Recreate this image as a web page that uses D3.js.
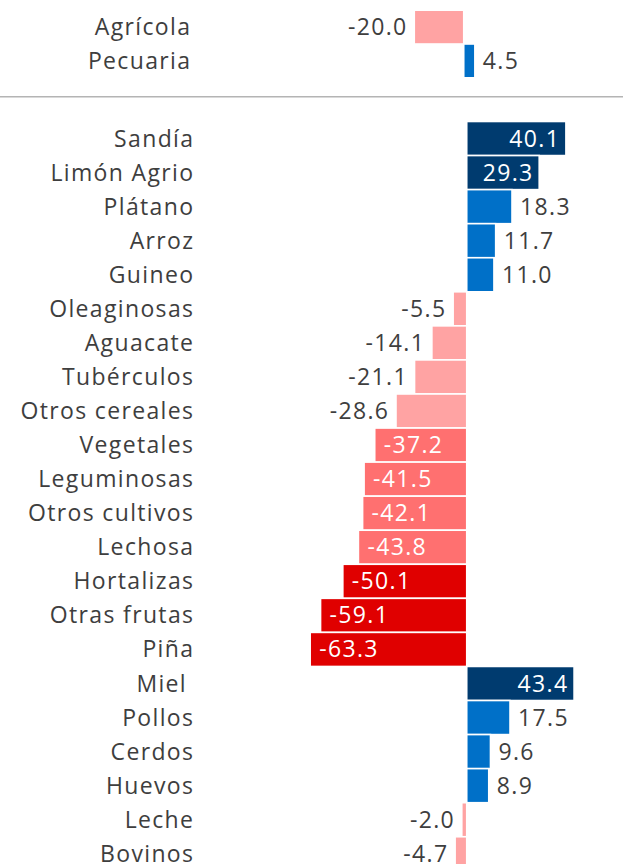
<!DOCTYPE html>
<html>
<head>
<meta charset="utf-8">
<script src="https://cdn.jsdelivr.net/npm/d3@7"></script>
<style>
  body { margin: 0; background: #fff; }
  text { font-family: "Open Sans", sans-serif; }
</style>
</head>
<body>
<div id="chart"></div>
<script>
// summary rows (top pane)
var summaryCategories = ["Agrícola", "Pecuaria"];
var summaryValues = [-20.0, 4.5];

// detail rows
var categories = ["Sandía", "Limón Agrio", "Plátano", "Arroz", "Guineo", "Oleaginosas",
  "Aguacate", "Tubérculos", "Otros cereales", "Vegetales", "Leguminosas", "Otros cultivos",
  "Lechosa", "Hortalizas", "Otras frutas", "Piña", "Miel ", "Pollos", "Cerdos", "Huevos",
  "Leche", "Bovinos"];
var values = [40.1, 29.3, 18.3, 11.7, 11.0, -5.5, -14.1, -21.1, -28.6, -37.2, -41.5, -42.1,
  -43.8, -50.1, -59.1, -63.3, 43.4, 17.5, 9.6, 8.9, -2.0, -4.7];

var width = 623, height = 864;
var fs = 23, ls = 1.35; // the original font runs wide

var svg = d3.select("#chart")
  .append("svg")
    .attr("width", width)
    .attr("height", height);

// color by value band
function barColor(v) {
  if (v > 25) return "#003b6f";
  if (v >= 0) return "#0070c8";
  if (v > -30) return "#ffa3a3";
  if (v > -50) return "#ff7070";
  return "#e00000";
}
function inside(v) {
  return v > 25 || v <= -30;
}

var x = d3.scaleLinear()
  .domain([-70, 50])
  .range([293.6, 590.4]);

function drawPane(g, cats, vals, y, labelX) {
  var rows = cats.map(function(c, i) { return {key: c, value: vals[i]}; });

  g.selectAll("rect")
    .data(rows)
    .enter()
    .append("rect")
      .attr("x", function(d) { return x(Math.min(0, d.value)); })
      .attr("y", function(d) { return y(d.key); })
      .attr("width", function(d) { return Math.abs(x(d.value) - x(0)); })
      .attr("height", y.bandwidth())
      .attr("fill", function(d) { return barColor(d.value); })
      .attr("stroke", "#fff")
      .attr("stroke-width", 1.6);

  // category names
  g.selectAll(".cat")
    .data(rows)
    .enter()
    .append("text")
      .attr("class", "cat")
      .attr("x", labelX + ls)
      .attr("y", function(d) { return y(d.key) + y.bandwidth() / 2; })
      .attr("dy", "0.35em")
      .attr("text-anchor", "end")
      .style("white-space", "pre")
      .style("letter-spacing", ls + "px")
      .attr("font-size", fs)
      .attr("fill", "#3e3e3e")
      .text(function(d) { return d.key; });

  // value labels
  g.selectAll(".val")
    .data(rows)
    .enter()
    .append("text")
      .attr("class", "val")
      .attr("x", function(d) {
        if (inside(d.value)) return d.value > 0 ? x(d.value) - 7 + ls : x(d.value) + 9;
        return d.value > 0 ? x(d.value) + 8 : x(d.value) - 8 + ls;
      })
      .attr("y", function(d) { return y(d.key) + y.bandwidth() / 2; })
      .attr("dy", "0.35em")
      .attr("text-anchor", function(d) {
        if (inside(d.value)) return d.value > 0 ? "end" : "start";
        return d.value > 0 ? "start" : "end";
      })
      .style("letter-spacing", ls + "px")
      .attr("font-size", fs)
      .attr("fill", function(d) { return inside(d.value) ? "#fff" : "#3e3e3e"; })
      .text(function(d) { return d.value.toFixed(1); });
}

// top pane
var yTop = d3.scaleBand()
  .domain(summaryCategories)
  .range([10.2, 10.2 + 2 * 33.8]);
var topPane = svg.append("g").attr("transform", "translate(-3,0)");
drawPane(topPane, summaryCategories, summaryValues, yTop, 193);

// separator
svg.append("line")
  .attr("x1", 0).attr("x2", width)
  .attr("y1", 96.7).attr("y2", 96.7)
  .attr("stroke", "#b4b4b4")
  .attr("stroke-width", 1.5);

// main pane
var y = d3.scaleBand()
  .domain(categories)
  .range([121.5, 121.5 + categories.length * 34.06]);
drawPane(svg.append("g"), categories, values, y, 193);
</script>
</body>
</html>
